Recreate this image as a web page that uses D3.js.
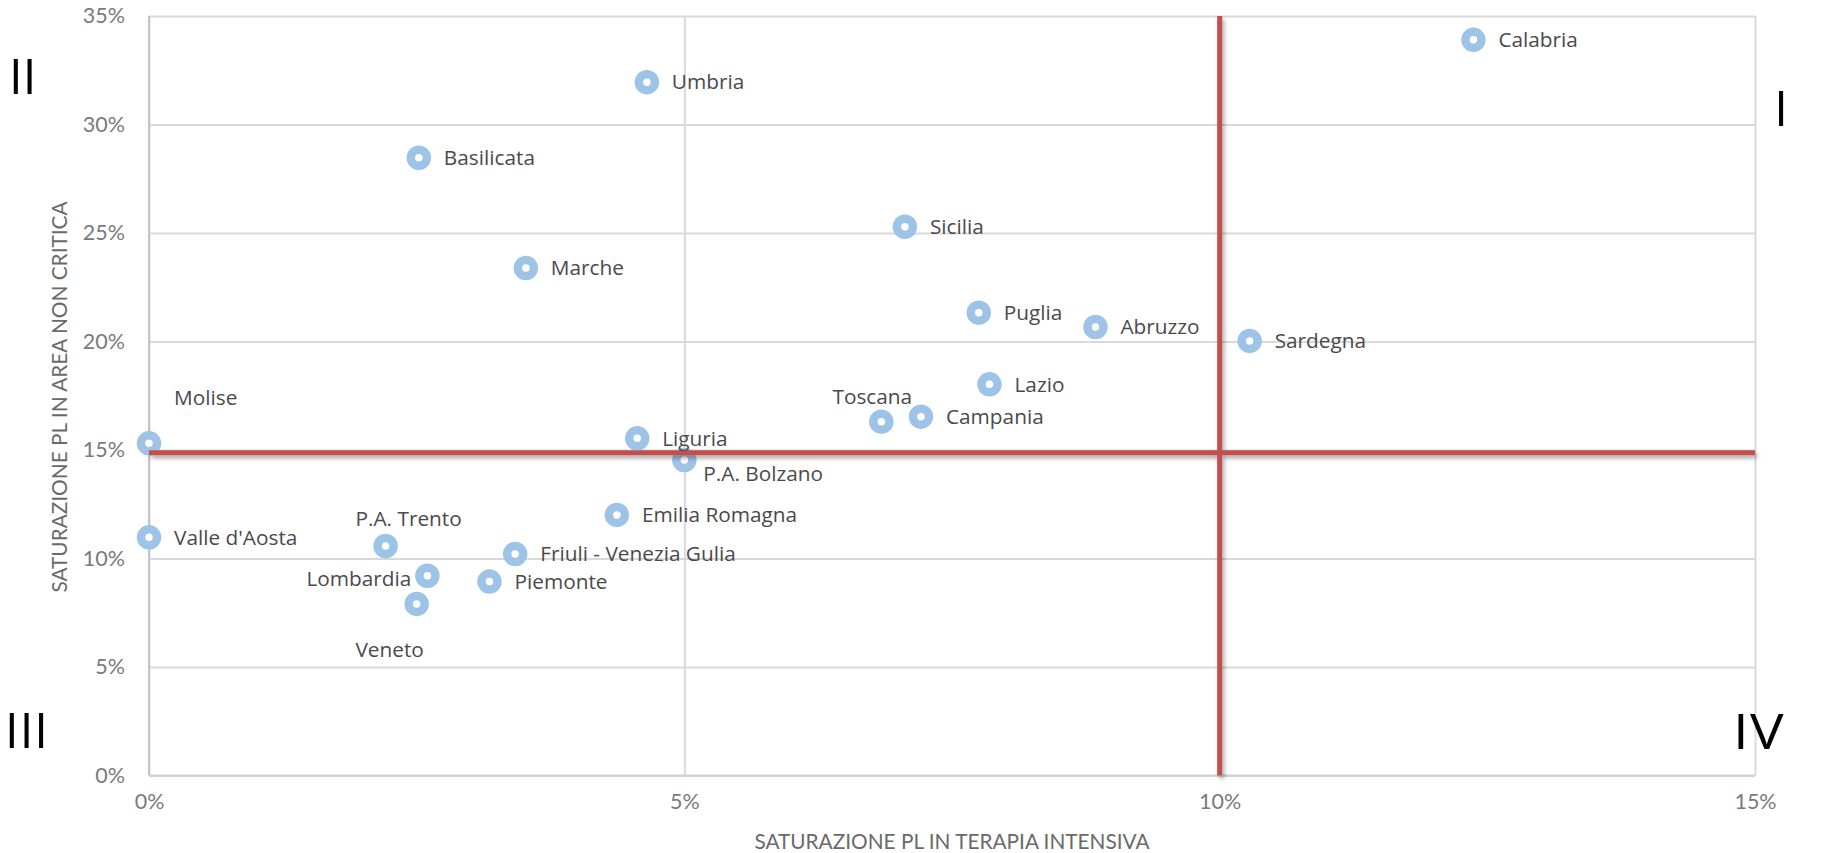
<!DOCTYPE html>
<html>
<head>
<meta charset="utf-8">
<script src="https://cdn.jsdelivr.net/npm/d3@7"></script>
<style>
  body { margin: 0; background: #fff; }
  svg { display: block; }
  .tick text { font-family: Lato, sans-serif; font-size: 21.5px; fill: #7a7a7a; }
  .label { font-family: "Open Sans", sans-serif; font-size: 20.8px; fill: #4a4a4a; }
  .axis-title { font-family: Lato, sans-serif; font-size: 20.8px; fill: #6a6a6a; }
  .quadrant { font-family: "Open Sans", sans-serif; font-size: 49px; fill: #000; }
</style>
</head>
<body>
<svg id="chart" width="1829" height="853"></svg>
<script>
// Regioni e valori (saturazione posti letto)
const regions = ['Calabria', 'Umbria', 'Basilicata', 'Sicilia', 'Marche', 'Puglia', 'Abruzzo',
  'Sardegna', 'Lazio', 'Campania', 'Toscana', 'Molise', 'Liguria', 'P.A. Bolzano',
  'Emilia Romagna', "Valle d'Aosta", 'P.A. Trento', 'Friuli - Venezia Gulia',
  'Lombardia', 'Piemonte', 'Veneto'];
const terapiaIntensiva = [0.1237, 0.0465, 0.0252, 0.0706, 0.0352, 0.0775, 0.0884,
  0.1028, 0.0785, 0.0721, 0.0684, 0.0000, 0.0456, 0.0500,
  0.0437, 0.0000, 0.0221, 0.0342, 0.0260, 0.0318, 0.0250];
const areaNonCritica = [0.339, 0.3195, 0.2847, 0.2529, 0.2339, 0.2133, 0.2067,
  0.2003, 0.1803, 0.1654, 0.1631, 0.1531, 0.1554, 0.1454,
  0.1201, 0.1098, 0.1058, 0.1021, 0.0921, 0.0894, 0.0791];
// where each data label sits relative to its marker
const labelPlace = ['right', 'right', 'right', 'right', 'right', 'right', 'right',
  'right', 'right', 'right', 'aboveLeft', 'aboveRight', 'right', 'belowRight',
  'right', 'right', 'aboveRight2', 'right', 'left', 'right', 'belowLeft'];

const xTicks = [0, 0.05, 0.10, 0.15];
const yTicks = [0, 0.05, 0.10, 0.15, 0.20, 0.25, 0.30, 0.35];
const sogliaIntensiva = 0.10, sogliaNonCritica = 0.1488;

const xTitle = 'SATURAZIONE PL IN TERAPIA INTENSIVA';
const yTitle = 'SATURAZIONE PL IN AREA NON CRITICA';

const data = regions.map((name, i) => ({
  name, x: terapiaIntensiva[i], y: areaNonCritica[i], place: labelPlace[i]
}));

const svg = d3.select('#chart');
const plotL = 149, plotR = 1755, plotT = 16, plotB = 775.6;

const x = d3.scaleLinear().domain([0, 0.15]).range([plotL, plotR]);
const y = d3.scaleLinear().domain([0, 0.35]).range([plotB, plotT]);
const pct = d3.format('.0%');

// shadow for the red threshold lines
const defs = svg.append('defs');
const f = defs.append('filter').attr('id', 'shadow')
  .attr('x', '-5%').attr('y', '-5%').attr('width', '110%').attr('height', '110%');
f.append('feDropShadow').attr('dx', 2).attr('dy', 3).attr('stdDeviation', 2)
  .attr('flood-color', '#000').attr('flood-opacity', 0.35);

// gridlines
svg.append('g')
  .attr('transform', `translate(${plotL},0)`)
  .call(d3.axisLeft(y).tickValues(yTicks).tickSize(-(plotR - plotL)).tickFormat(pct).tickPadding(24))
  .call(g => g.select('.domain').remove())
  .call(g => g.selectAll('.tick line').attr('stroke', '#d9d9d9').attr('stroke-width', 2));

svg.append('g')
  .attr('transform', `translate(0,${plotB})`)
  .call(d3.axisBottom(x).tickValues(xTicks).tickSize(-(plotB - plotT)).tickFormat(pct).tickPadding(22))
  .call(g => g.select('.domain').remove())
  .call(g => g.selectAll('.tick line').attr('stroke', '#d9d9d9').attr('stroke-width', 2))
  .call(g => g.selectAll('.tick text').attr('dy', '0.55em'));

// axis lines
svg.append('line').attr('x1', plotL).attr('x2', plotL).attr('y1', plotT).attr('y2', plotB)
  .attr('stroke', '#c4c4c4').attr('stroke-width', 2);
svg.append('line').attr('x1', plotL).attr('x2', plotR).attr('y1', plotB).attr('y2', plotB)
  .attr('stroke', '#d0d0d0').attr('stroke-width', 2);

// markers
svg.append('g').selectAll('circle')
  .data(data)
  .enter()
  .append('circle')
  .attr('cx', d => x(d.x))
  .attr('cy', d => y(d.y))
  .attr('r', 8)
  .attr('fill', '#fff')
  .attr('stroke', '#9dc3e6')
  .attr('stroke-width', 8.5);

// threshold lines
const red = svg.append('g').attr('filter', 'url(#shadow)');
red.append('line')
  .attr('x1', plotL).attr('x2', plotR)
  .attr('y1', y(sogliaNonCritica)).attr('y2', y(sogliaNonCritica))
  .attr('stroke', '#c0504d').attr('stroke-width', 5);
red.append('line')
  .attr('x1', x(sogliaIntensiva)).attr('x2', x(sogliaIntensiva))
  .attr('y1', plotT).attr('y2', plotB)
  .attr('stroke', '#c0504d').attr('stroke-width', 5);

// data labels
const offsets = {
  right:       { dx: 25,  dy: 0,   anchor: 'start' },
  left:        { dx: -16, dy: 3,   anchor: 'end' },
  aboveLeft:   { dx: -9,  dy: -25, anchor: 'middle' },
  aboveRight:  { dx: 25,  dy: -46, anchor: 'start' },
  aboveRight2: { dx: 23,  dy: -27, anchor: 'middle' },
  belowRight:  { dx: 19,  dy: 14,  anchor: 'start' },
  belowLeft:   { dx: -27, dy: 46,  anchor: 'middle' }
};

svg.append('g').selectAll('text')
  .data(data)
  .enter()
  .append('text')
  .attr('class', 'label')
  .attr('x', d => x(d.x) + offsets[d.place].dx)
  .attr('y', d => y(d.y) + offsets[d.place].dy)
  .attr('dy', '0.35em')
  .attr('text-anchor', d => offsets[d.place].anchor)
  .text(d => d.name);

// axis titles
svg.append('text').attr('class', 'axis-title')
  .attr('x', (plotL + plotR) / 2).attr('y', 842).attr('dy', '0.35em')
  .attr('text-anchor', 'middle').text(xTitle);

svg.append('text').attr('class', 'axis-title')
  .attr('transform', `translate(60,397) rotate(-90)`)
  .attr('dy', '0.35em')
  .attr('text-anchor', 'middle').text(yTitle);

// quadrant numerals
const quadrants = [
  { t: 'II', x: 9, y: 76, a: 'start', ls: 0 },
  { t: 'I', x: 1788, y: 108, a: 'end', ls: 0 },
  { t: 'III', x: 5, y: 730, a: 'start', ls: 1 },
  { t: 'IV', x: 1733, y: 731, a: 'start', ls: 1 }
];
svg.append('g').selectAll('text')
  .data(quadrants)
  .enter()
  .append('text')
  .attr('class', 'quadrant')
  .attr('x', d => d.x).attr('y', d => d.y)
  .attr('dy', '0.36em')
  .attr('text-anchor', d => d.a)
  .style('letter-spacing', d => d.ls + 'px')
  .attr('transform', d => d.t === 'IV' ? `translate(${d.x},0) scale(1.15,1) translate(${-d.x},0)` : null)
  .text(d => d.t);
</script>
</body>
</html>
